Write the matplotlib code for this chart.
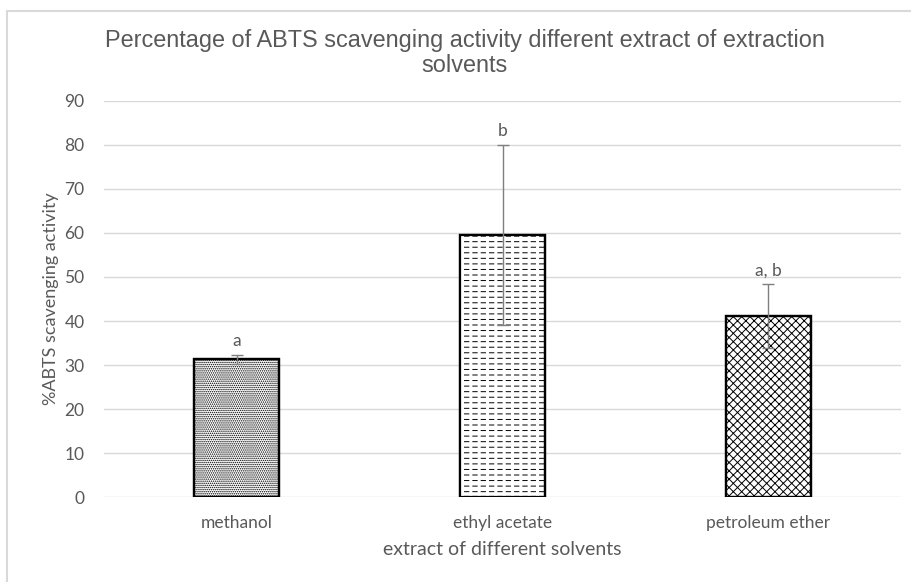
import matplotlib
matplotlib.use("Agg")
import matplotlib.pyplot as plt
from matplotlib.patches import Rectangle

# data
solvents = ["methanol", "ethyl acetate", "petroleum ether"]
abts_mean = [31.3, 59.5, 41.1]
abts_err = [1.0, 20.5, 7.3]
sig_letters = ["a", "b", "a, b"]
hatches = ["........", "---", "xxxx"]

TEXT = "#595959"
GRID = "#D9D9D9"

plt.rcParams["hatch.linewidth"] = 0.7

fig = plt.figure(figsize=(9.12, 5.82), dpi=100)
ax = fig.add_axes([0.114, 0.146, 0.874, 0.6805])

x = range(len(solvents))
bars = ax.bar(x, abts_mean, width=0.32, color="white", edgecolor="black",
              linewidth=1.6, hatch=hatches, zorder=2)

# break the horizontal lines of the ethyl acetate bar into dashes
with plt.rc_context({"hatch.linewidth": 2.2}):
    ax.bar([1], [abts_mean[1]], width=0.32, fill=False, edgecolor="white",
           linewidth=0, hatch="||", zorder=3)
ax.bar(x, abts_mean, width=0.32, fill=False, edgecolor="black",
       linewidth=1.6, zorder=4)

ax.errorbar(x, abts_mean, yerr=abts_err, fmt="none", ecolor="#7F7F7F",
            elinewidth=1.0, capsize=4, capthick=1.0, zorder=5)

for xi, m, e, lab in zip(x, abts_mean, abts_err, sig_letters):
    ax.annotate(lab, (xi, m + e), xytext=(0, 4), textcoords="offset points",
                ha="center", va="bottom", color=TEXT, fontsize=12.5,
                family="Lato")

ax.set_xlim(-0.5, 2.5)
ax.set_ylim(0, 90)
ax.set_yticks(range(0, 91, 10))
ax.set_xticks(list(x))
ax.set_xticklabels(solvents)
ax.grid(axis="y", color=GRID, linewidth=1.0, zorder=0)
ax.set_axisbelow(True)
for s in ax.spines.values():
    s.set_visible(False)
ax.tick_params(length=0, colors=TEXT, labelsize=12.5)
ax.tick_params(axis="y", pad=14)
ax.tick_params(axis="x", pad=13)
for t in ax.get_xticklabels() + ax.get_yticklabels():
    t.set_family("Lato")

ax.set_xlabel("extract of different solvents", color=TEXT, fontsize=14,
              family="Lato", labelpad=7)
ax.set_ylabel("%ABTS scavenging activity", color=TEXT, fontsize=13,
              family="Lato", labelpad=4)

fig.text(465 / 912, 1 - 40 / 582,
         "Percentage of ABTS scavenging activity different extract of extraction",
         ha="center", va="center", color=TEXT, fontsize=16.9,
         family="Liberation Sans")
fig.text(465 / 912, 1 - 65 / 582, "solvents", ha="center", va="center",
         color=TEXT, fontsize=16.9, family="Liberation Sans")

# outer chart border
fig.patches.append(Rectangle((7.5 / 912, -0.05), 1.1, 1 - 11 / 582 + 0.05,
                             transform=fig.transFigure, fill=False,
                             edgecolor=GRID, linewidth=1.5, zorder=0))

fig.savefig("out.png", dpi=100)
